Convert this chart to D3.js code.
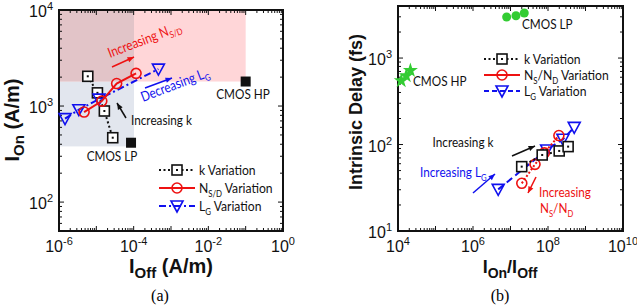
<!DOCTYPE html>
<html>
<head>
<meta charset="utf-8">
<script src="https://cdn.jsdelivr.net/npm/d3@7"></script>
<style>
  body { margin: 0; background: #fff; }
  svg { display: block; }
  .tick-lab { font-family: "Liberation Sans", Arial, sans-serif; font-size: 16px; fill: #111; }
  .ax-lab { font-family: "Liberation Sans", Arial, sans-serif; font-weight: bold; fill: #111; }
  .note { font-family: Lato, "Open Sans", sans-serif; font-size: 14px; }
  .leg { font-family: Lato, "Open Sans", sans-serif; font-size: 13.5px; }
</style>
</head>
<body>
<svg id="chart" width="637" height="307"></svg>
<script>
// ---- panel (a): I_on vs I_off ----
const kOff = [5.9e-6, 1.07e-5, 1.64e-5, 2.75e-5];
const kOn = [2040, 1372, 888, 468];
const nOff = [4.7e-6, 1.4e-5, 3.5e-5, 1.16e-4];
const nOn = [866, 1126, 1714, 2190];
const lOff = [1.45e-6, 3.4e-6, 1.18e-5, 4.6e-4];
const lOn = [740, 916, 1180, 2425];
const cmosA = [{name: "CMOS HP", off: 1e-1, on: 1800}, {name: "CMOS LP", off: 8.5e-5, on: 415}];
const xTicksA = [-6, -4, -2, 0];
const yTicksA = [2, 3, 4];

// ---- panel (b): delay vs I_on/I_off ----
const kRatio = [1.99e7, 7.0e7, 1.99e8, 3.44e8];
const kDelay = [55.5, 75.7, 84.3, 94.6];
const nRatio = [2.0e7, 4.5e7, 8.0e7, 1.95e8];
const nDelay = [35.6, 59, 80, 127];
const lRatio = [4.7e6, 9.2e7, 2.5e8, 5.0e8];
const lDelay = [30.3, 86.5, 115, 158];
const lpRatio = [7.9e6, 1.4e7, 2.33e7];
const lpDelay = [2985, 3090, 3320];
const hpRatio = [1.22e4, 1.66e4, 2.14e4];
const hpDelay = [546, 624, 718];
const xTicksB = [4, 6, 8, 10];
const yTicksB = [1, 2, 3];

const svg = d3.select("#chart");
const zip = (xs, ys) => xs.map((x, i) => [x, ys[i]]);

function logAxes(g, x, y, xt, yt) {
    const [x0, x1] = x.range(), [y1, y0] = y.range();
    const xd = x.domain(), yd = y.domain();
    // minor + major ticks on all four sides
    const xs = [], ys = [];
    for (let e = Math.floor(Math.log10(xd[0])); e < Math.log10(xd[1]); e++)
        for (let m = 1; m < 10; m++) { const v = m * Math.pow(10, e); if (v >= xd[0] && v <= xd[1]) xs.push([v, m == 1]); }
    xs.push([xd[1], true]);
    for (let e = Math.floor(Math.log10(yd[0])); e < Math.log10(yd[1]); e++)
        for (let m = 1; m < 10; m++) { const v = m * Math.pow(10, e); if (v >= yd[0] && v <= yd[1]) ys.push([v, m == 1]); }
    const tk = g.append("g").attr("stroke", "#111").attr("stroke-width", 1);
    xs.forEach(([v, maj]) => {
        const L = maj ? 5 : 3, px = x(v);
        tk.append("line").attr("x1", px).attr("x2", px).attr("y1", y1).attr("y2", y1 - L);
        tk.append("line").attr("x1", px).attr("x2", px).attr("y1", y0).attr("y2", y0 + L);
    });
    ys.forEach(([v, maj]) => {
        const L = maj ? 5 : 3, py = y(v);
        tk.append("line").attr("x1", x0).attr("x2", x0 + L).attr("y1", py).attr("y2", py);
        tk.append("line").attr("x1", x1).attr("x2", x1 - L).attr("y1", py).attr("y2", py);
    });
    g.append("rect").attr("x", x0).attr("y", y0).attr("width", x1 - x0).attr("height", y1 - y0)
        .attr("fill", "none").attr("stroke", "#111").attr("stroke-width", 2);
    xt.forEach(e => {
        const t = g.append("text").attr("class", "tick-lab").attr("x", x(Math.pow(10, e))).attr("y", y1 + 21)
            .attr("text-anchor", "middle");
        t.append("tspan").text("10");
        t.append("tspan").attr("dy", -7).attr("font-size", 11).text(e);
    });
    yt.forEach(e => {
        const t = g.append("text").attr("class", "tick-lab").attr("x", x0 - 6).attr("y", y(Math.pow(10, e)) + 7)
            .attr("text-anchor", "end");
        t.append("tspan").text("10");
        t.append("tspan").attr("dy", -7).attr("font-size", 11).text(e);
    });
}

function marker(g, type, px, py, color) {
    if (type == "sq") {
        g.append("rect").attr("x", px - 5).attr("y", py - 5).attr("width", 10).attr("height", 10)
            .attr("fill", "#fff").attr("stroke", color).attr("stroke-width", 1.6);
        g.append("rect").attr("x", px - 1).attr("y", py - 1).attr("width", 2).attr("height", 2).attr("fill", color);
    } else if (type == "ci") {
        g.append("circle").attr("cx", px).attr("cy", py).attr("r", 5)
            .attr("fill", "none").attr("stroke", color).attr("stroke-width", 1.6);
    } else if (type == "tri") {
        g.append("path").attr("d", `M${px - 6},${py - 5}L${px + 6},${py - 5}L${px},${py + 6}Z`)
            .attr("fill", "none").attr("stroke", color).attr("stroke-width", 1.6);
    }
}

function series(g, x, y, pts, type, color, dash) {
    g.append("path").datum(pts)
        .attr("d", d3.line().x(d => x(d[0])).y(d => y(d[1])))
        .attr("fill", "none").attr("stroke", color).attr("stroke-width", 2)
        .attr("stroke-dasharray", dash);
    pts.forEach(d => marker(g, type, x(d[0]), y(d[1]), color));
}

function arrow(g, x1, y1, x2, y2, color) {
    g.append("line").attr("x1", x1).attr("y1", y1).attr("x2", x2).attr("y2", y2)
        .attr("stroke", color).attr("stroke-width", 1.5);
    const a = Math.atan2(y2 - y1, x2 - x1), h = 7;
    g.append("path")
        .attr("d", `M${x2},${y2}L${x2 - h * Math.cos(a - 0.4)},${y2 - h * Math.sin(a - 0.4)}L${x2 - h * Math.cos(a + 0.4)},${y2 - h * Math.sin(a + 0.4)}Z`)
        .attr("fill", color);
}

// parts: [text, isSubscript]
function subText(g, x, y, parts, attrs) {
    const t = g.append("text").attr("x", x).attr("y", y);
    Object.entries(attrs || {}).forEach(([k, v]) => t.attr(k, v));
    let low = false;
    parts.forEach(([s, sub]) => {
        const sp = t.append("tspan").text(s);
        if (sub) { sp.attr("font-size", "0.65em"); if (!low) sp.attr("dy", 3.5); }
        else if (low) sp.attr("dy", -3.5);
        low = !!sub;
    });
    return t;
}

// Calibri-like narrow look: draw at origin of a horizontally squeezed group
function note(g, x, y, parts, color, rot, anchor) {
    const h = g.append("g").attr("transform", `translate(${x},${y}) rotate(${rot || 0}) scale(0.84,1)`);
    return subText(h, 0, 0, parts, {class: "note", fill: color, "text-anchor": anchor || "start"});
}

function legend(g, x0, y0, rows, gap) {
    rows.forEach((r, i) => {
        const yy = y0 + i * gap;
        g.append("line").attr("x1", x0).attr("x2", x0 + 36).attr("y1", yy).attr("y2", yy)
            .attr("stroke", r.color).attr("stroke-width", 2).attr("stroke-dasharray", r.dash);
        marker(g, r.type, x0 + 18, yy, r.color);
        const h = g.append("g").attr("transform", `translate(${x0 + 40},${yy + 5}) scale(0.9,1)`);
        subText(h, 0, 0, r.label, {class: "leg", fill: "#111"});
    });
}

// ================= panel (a) =================
const xA = d3.scaleLog().domain([1e-6, 1]).range([59, 283]);
const yA = d3.scaleLog().domain([50, 1e4]).range([231, 10]);
const gA = svg.append("g");

// spec regions: better than LP / better than HP
gA.append("rect").attr("x", xA(1e-6)).attr("y", yA(1e4)).attr("width", xA(1e-1) - xA(1e-6))
    .attr("height", yA(1800) - yA(1e4)).attr("fill", "#ffd6d8");
gA.append("rect").attr("x", xA(1e-6)).attr("y", yA(1800)).attr("width", xA(1.02e-4) - xA(1e-6))
    .attr("height", yA(380) - yA(1800)).attr("fill", "#e2e6ee");
gA.append("rect").attr("x", xA(1e-6)).attr("y", yA(1e4)).attr("width", xA(1.02e-4) - xA(1e-6))
    .attr("height", yA(1800) - yA(1e4)).attr("fill", "#e2c4c8");

logAxes(gA, xA, yA, xTicksA, yTicksA);

series(gA, xA, yA, zip(kOff, kOn), "sq", "#111", "2,2.5");
series(gA, xA, yA, zip(lOff, lOn), "tri", "#1010ee", "7,3,2,3");
series(gA, xA, yA, zip(nOff, nOn), "ci", "#ee1111", null);

cmosA.forEach(c => {
    gA.append("rect").attr("x", xA(c.off) - 5).attr("y", yA(c.on) - 5).attr("width", 10).attr("height", 10).attr("fill", "#111");
});
note(gA, 243, 99, [["CMOS HP"]], "#111", 0, "middle");
note(gA, 112, 161, [["CMOS LP"]], "#111", 0, "middle");

note(gA, 110, 58, [["Increasing N"], ["S/D", true]], "#ee1111", -21);
arrow(gA, 112, 67, 134, 57, "#ee1111");
note(gA, 143, 102, [["Decreasing L"], ["G", true]], "#1010ee", -21);
arrow(gA, 145, 88, 172, 78, "#1010ee");
note(gA, 131, 125, [["Increasing k"]], "#111");
arrow(gA, 126, 118, 117, 103, "#111");

legend(gA, 159, 170, [
    {label: [["k Variation"]], type: "sq", color: "#111", dash: "2,2.5"},
    {label: [["N"], ["S/D", true], [" Variation"]], type: "ci", color: "#ee1111", dash: null},
    {label: [["L"], ["G", true], [" Variation"]], type: "tri", color: "#1010ee", dash: "7,3,2,3"}
], 18);

const yLabA = gA.append("text").attr("class", "ax-lab").attr("font-size", 20)
    .attr("transform", "translate(19,120) rotate(-90)").attr("text-anchor", "middle");
yLabA.append("tspan").text("I");
yLabA.append("tspan").attr("dy", 5).attr("font-size", 15).text("On");
yLabA.append("tspan").attr("dy", -5).text(" (A/m)");
const xLabA = gA.append("text").attr("class", "ax-lab").attr("font-size", 20)
    .attr("x", 171).attr("y", 273).attr("text-anchor", "middle");
xLabA.append("tspan").text("I");
xLabA.append("tspan").attr("dy", 5).attr("font-size", 15).text("Off");
xLabA.append("tspan").attr("dy", -5).text(" (A/m)");
gA.append("text").attr("x", 160).attr("y", 301).attr("text-anchor", "middle")
    .attr("font-family", "Liberation Serif, serif").attr("font-size", 16).text("(a)");

// ================= panel (b) =================
const xB = d3.scaleLog().domain([1e4, 1e10]).range([398, 623]);
const yB = d3.scaleLog().domain([10, 4000]).range([231, 6]);
const gB = svg.append("g");
logAxes(gB, xB, yB, xTicksB, yTicksB);

series(gB, xB, yB, zip(lRatio, lDelay), "tri", "#1010ee", "7,4");
series(gB, xB, yB, zip(nRatio, nDelay), "ci", "#ee1111", "2,2");
series(gB, xB, yB, zip(kRatio, kDelay), "sq", "#111", "2,2.5");

zip(lpRatio, lpDelay).forEach(d => gB.append("circle").attr("cx", xB(d[0])).attr("cy", yB(d[1])).attr("r", 4.5).attr("fill", "#33cc33"));
const star = d3.symbol().type(d3.symbolStar).size(70);
zip(hpRatio, hpDelay).forEach(d => gB.append("path").attr("d", star())
    .attr("transform", `translate(${xB(d[0])},${yB(d[1])})`).attr("fill", "#33cc33"));
note(gB, 522, 29, [["CMOS LP"]], "#111");
note(gB, 413, 86, [["CMOS HP"]], "#111");

note(gB, 463, 147, [["Increasing k"]], "#111", 0, "middle");
arrow(gB, 512, 156, 535, 146, "#111");
note(gB, 420, 177, [["Increasing L"], ["G", true]], "#1010ee");
arrow(gB, 473, 193, 495, 174, "#1010ee");
note(gB, 539, 197, [["Increasing"]], "#ee1111");
note(gB, 540, 213, [["N"], ["S", true], ["/N"], ["D", true]], "#ee1111");
arrow(gB, 536, 177, 528, 193, "#ee1111");

legend(gB, 484, 59, [
    {label: [["k Variation"]], type: "sq", color: "#111", dash: "2,2.5"},
    {label: [["N"], ["S", true], ["/N"], ["D", true], [" Variation"]], type: "ci", color: "#ee1111", dash: null},
    {label: [["L"], ["G", true], [" Variation"]], type: "tri", color: "#1010ee", dash: "5,3"}
], 16);

const yLabB = gB.append("text").attr("class", "ax-lab").attr("font-size", 18)
    .attr("transform", "translate(362,112) rotate(-90)").attr("text-anchor", "middle").text("Intrinsic Delay (fs)");
const xLabB = gB.append("text").attr("class", "ax-lab").attr("font-size", 18)
    .attr("x", 510).attr("y", 273).attr("text-anchor", "middle");
xLabB.append("tspan").text("I");
xLabB.append("tspan").attr("dy", 5).attr("font-size", 14).text("On");
xLabB.append("tspan").attr("dy", -5).text("/I");
xLabB.append("tspan").attr("dy", 5).attr("font-size", 14).text("Off");
gB.append("text").attr("x", 500).attr("y", 301).attr("text-anchor", "middle")
    .attr("font-family", "Liberation Serif, serif").attr("font-size", 16).text("(b)");
</script>
</body>
</html>
